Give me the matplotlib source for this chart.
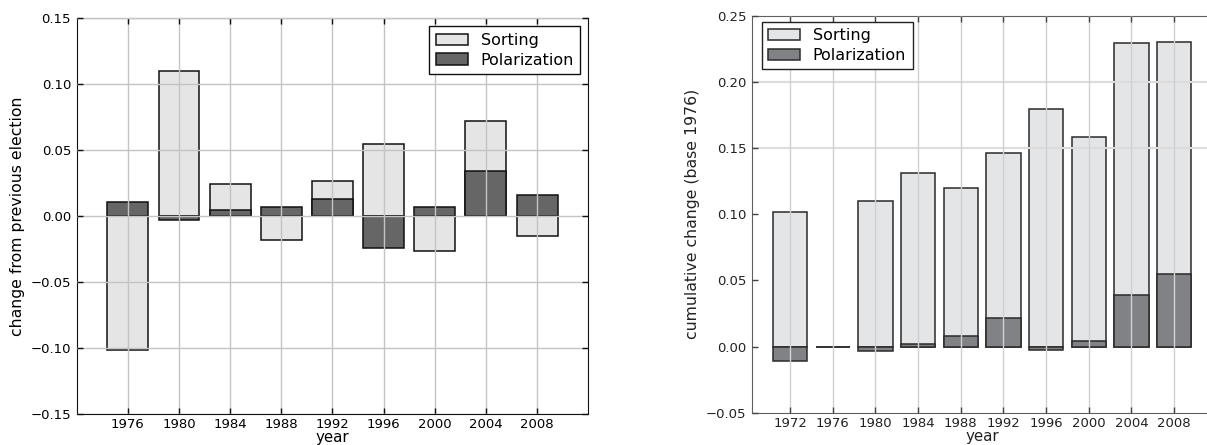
import matplotlib.pyplot as plt

# Change from previous election (left panel)
years_change = [1976, 1980, 1984, 1988, 1992, 1996, 2000, 2004, 2008]
sorting_change = [-0.1013, 0.110, 0.0247, -0.0179, 0.0270, 0.0549, -0.0267, 0.0720, -0.0151]
polar_change = [0.0106, -0.0030, 0.0048, 0.0068, 0.0131, -0.0239, 0.0071, 0.0340, 0.0161]

# Cumulative change, base 1976 (right panel)
years_cum = [1972, 1976, 1980, 1984, 1988, 1992, 1996, 2000, 2004, 2008]
sorting_cum = [0.1015, 0.0, 0.1100, 0.1314, 0.1198, 0.1465, 0.1800, 0.1584, 0.2299, 0.2306]
polar_cum = [-0.0106, 0.0, -0.0033, 0.0018, 0.0083, 0.0214, -0.0025, 0.0045, 0.0388, 0.0546]

left_yticks = [-0.15, -0.10, -0.05, 0.0, 0.05, 0.10, 0.15]
right_yticks = [-0.05, 0.0, 0.05, 0.10, 0.15, 0.20, 0.25]
# only these horizontal grid lines survive in the scanned right panel
right_hgrid = [0.15, 0.20]


def fmt(v):
    return ('%.2f' % v).replace('-', '\u2212')


fig = plt.figure(figsize=(12.07, 4.45), dpi=100)

# Left panel
ax1 = fig.add_axes([0.0635, 0.0697, 0.4239, 0.889])
ax1.bar(years_change, sorting_change, width=3.2, color='#e5e5e5', edgecolor='#111111',
        linewidth=1.1, label='Sorting')
ax1.bar(years_change, polar_change, width=3.2, color='#666666', edgecolor='#111111',
        linewidth=1.1, label='Polarization')
ax1.set_xlim(1972, 2012)
ax1.set_ylim(-0.15, 0.15)
ax1.set_xticks(years_change)
ax1.set_yticks(left_yticks)
ax1.set_yticklabels([fmt(v) for v in left_yticks])
ax1.set_axisbelow(False)
ax1.grid(True, color='#c4c4c4', linewidth=1.0)
ax1.tick_params(direction='in', top=True, right=True, length=4, width=1,
                labelsize=9.5, color='#111111', pad=4)
ax1.tick_params(axis='x', pad=3)
for s in ax1.spines.values():
    s.set_color('#111111')
ax1.set_xlabel('year', fontsize=10.8, labelpad=-0.5)
ax1.set_ylabel('change from previous election', fontsize=11.3)
leg1 = ax1.legend(loc='upper right', fontsize=11.5, fancybox=False, labelspacing=0.3,
                  framealpha=1, edgecolor='#111111')
leg1.get_frame().set_linewidth(1.0)

# Right panel (cut off at the image edge, as in the source)
ax2 = fig.add_axes([0.6228, 0.0726, 0.3818, 0.8915])
ax2.bar(years_cum, sorting_cum, width=3.2, color='#e4e5e7', edgecolor='#2a2a2a',
        linewidth=1.1, label='Sorting')
ax2.bar(years_cum, polar_cum, width=3.2, color='#808285', edgecolor='#2a2a2a',
        linewidth=1.1, label='Polarization')
ax2.set_xlim(1968.4, 2011.6)
ax2.set_ylim(-0.05, 0.25)
ax2.set_xticks(years_cum)
ax2.set_yticks(right_yticks)
ax2.set_yticklabels([fmt(v) for v in right_yticks])
ax2.set_axisbelow(False)
ax2.grid(True, axis='x', color='#d0d0d0', linewidth=1.0)
for lvl in right_hgrid:
    ax2.axhline(lvl, color='#dcdcdc', linewidth=1.5, zorder=2.5)
ax2.tick_params(direction='in', top=True, right=True, length=4, width=1,
                labelsize=9.5, color='#444444', labelcolor='#222222', pad=4)
ax2.tick_params(axis='x', pad=3)
for s in ax2.spines.values():
    s.set_color('#606060')
ax2.set_xlabel('year', fontsize=10.8, labelpad=-0.5, color='#222222')
ax2.set_ylabel('cumulative change (base 1976)', fontsize=11.3, color='#222222')
leg2 = ax2.legend(loc='upper left', fontsize=11.5, fancybox=False, labelspacing=0.3,
                  framealpha=1, edgecolor='#222222', borderaxespad=0,
                  bbox_to_anchor=(10 / 460.8, 1 - 5.7 / 396.7))
leg2.get_frame().set_linewidth(1.0)

fig.savefig('out.png', dpi=100)
